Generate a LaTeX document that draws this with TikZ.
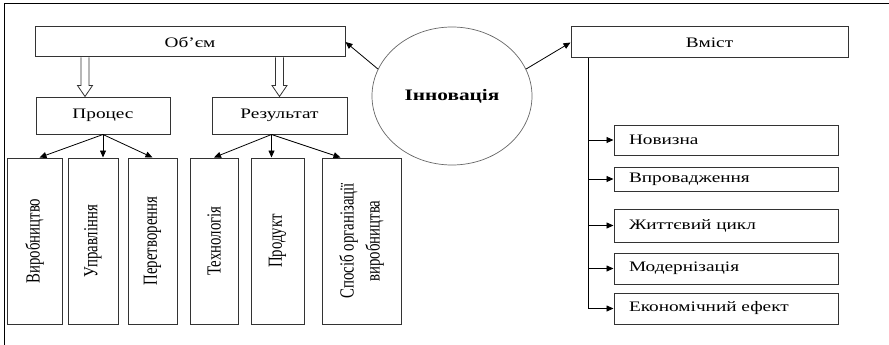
\documentclass[tikz,border=0pt]{standalone}
\usepackage{fontspec}
\setmainfont{Liberation Serif}
\newfontfamily\wide[FakeStretch=1.33]{Liberation Serif}
\newfontfamily\narrow[FakeStretch=0.74]{Liberation Serif}
\usetikzlibrary{arrows.meta,shapes.geometric,calc}

\tikzset{
  box/.style={draw=black!80,line width=1pt,inner sep=0pt,font=\wide\fontsize{14.5}{17}\selectfont},
  lbox/.style={box,inner xsep=15pt,text width=194pt,align=left},
  vbox/.style={draw=black!80,line width=1pt,inner sep=0pt,minimum height=166pt,font=\narrow\fontsize{20}{26}\selectfont},
  hollow/.style={draw=black!80,line width=0.8pt,to path={let \p1=(\tikztostart),\p2=(\tikztotarget) in
    (\x1-4pt,\y1) -- (\x1-4pt,\y2+11pt) -- (\x1-7.5pt,\y2+11pt) -- (\x1,\y2)
    -- (\x1+7.5pt,\y2+11pt) -- (\x1+4pt,\y2+11pt) -- (\x1+4pt,\y1)}},
}

\begin{document}
\begin{tikzpicture}[x=1pt,y=-1pt,line width=0.8pt,>={Triangle[length=7pt,width=6pt]}]
  \useasboundingbox (0,0) rectangle (889,345);
  \draw[line width=1pt] (4,345) -- (4,4) -- (889,4);

  \node[box,minimum width=310pt,minimum height=30pt] (obyem) at (190,42) {Об’єм};
  \node[box,minimum width=134pt,minimum height=37pt] (proc) at (103,115.5) {Процес};
  \node[box,minimum width=135pt,minimum height=37pt] (rez) at (279.5,115.5) {Результат};
  \node[ellipse,draw=black!60,line width=0.7pt,minimum width=160pt,minimum height=138pt,
        font=\wide\bfseries\fontsize{16}{18}\selectfont] (inn) at (452,96) {Інновація};
  \node[box,minimum width=277pt,minimum height=31pt] (vst) at (709.5,42.5) {Вміст};

  % process and result
  \node[vbox,minimum width=55pt] (vyr) at (34.5,241) {\rotatebox{90}{Виробництво}};
  \node[vbox,minimum width=50pt] (upr) at (93,241) {\rotatebox{90}{Управління}};
  \node[vbox,minimum width=49pt] (per) at (152.5,241) {\rotatebox{90}{Перетворення}};
  \node[vbox,minimum width=48pt] (tekh) at (214,241) {\rotatebox{90}{Технологія}};
  \node[vbox,minimum width=53pt] (prod) at (277.5,241) {\rotatebox{90}{Продукт}};
  \node[vbox,minimum width=79pt] (spos) at (361.5,241)
    {\rotatebox{90}{\begin{tabular}{@{}c@{}}Спосіб організації\\виробництва\end{tabular}}};

  % content
  \node[lbox,minimum height=30pt] (nov) at (726,140) {Новизна};
  \node[lbox,minimum height=24pt] (vpr) at (726,179) {Впровадження};
  \node[lbox,minimum height=33pt] (zhc) at (726,225.5) {Життєвий цикл};
  \node[lbox,minimum height=31pt] (mod) at (726,268.5) {Модернізація};
  \node[lbox,minimum height=31pt] (eko) at (726,308.5) {Економічний ефект};

  \coordinate (h1) at ([xshift=-18pt]proc.north);
  \coordinate (h2) at (rez.north);
  \draw[hollow] (h1 |- obyem.south) to (h1);
  \draw[hollow] (h2 |- obyem.south) to (h2);

  \draw[->] (inn.160) -- (obyem.east);
  \draw[->] (inn.20) -- (vst.west);

  \draw[->] (proc.south) -- ([xshift=5pt]vyr.north);
  \draw[->] (proc.south) -- (proc.south |- upr.north);
  \draw[->] (proc.south) -- (per.north);
  \coordinate (rs) at ([xshift=-8pt]rez.south);
  \draw[->] (rs) -- (tekh.north);
  \draw[->] (rs) -- (rs |- prod.north);
  \draw[->] (rs) -- ([xshift=-21pt]spos.north);

  \coordinate (tr) at ([xshift=18pt]vst.south west);
  \foreach \b in {nov,vpr,zhc,mod,eko}
    \draw[->] (tr) |- (\b.west);
\end{tikzpicture}
\end{document}
